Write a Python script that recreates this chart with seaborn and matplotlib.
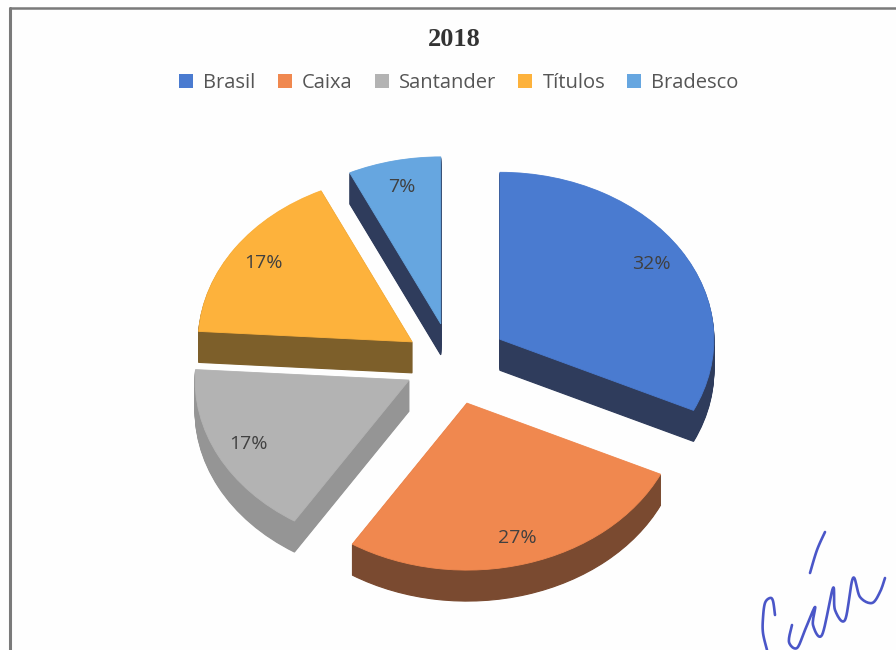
import matplotlib
matplotlib.use("Agg")
import matplotlib.pyplot as plt
from matplotlib.lines import Line2D
from matplotlib.patches import Patch
import numpy as np
import seaborn as sns

categories = ["Brasil", "Caixa", "Santander", "Títulos", "Bradesco"]
shares = [32, 27, 17, 17, 7]
explode = [0.265, 0.25, 0.225, 0.225, 0.24]
top_colors = ["#4a7bd0", "#f0884f", "#b3b3b3", "#fdb23c", "#66a6e0"]
side_colors = ["#2f3c5c", "#7a4a30", "#959595", "#7d5f2a", "#2f3c5c"]
title_text = "2018"

# pixel geometry of the tilted pie
W, H = 896, 650
CX, CY, RX, RY, DEPTH = 452, 363, 214, 167, 31

sns.set_theme(style="white")
fig = plt.figure(figsize=(W / 100, H / 100), dpi=100, facecolor="#fefefe")
ax = fig.add_axes([0, 0, 1, 1], facecolor="#fefefe")

# side walls: the same pie repeated below the top surface
for step in range(DEPTH, 0, -1):
    ax.pie(shares, explode=explode, colors=side_colors, startangle=90,
           counterclock=False, center=(0, -step / RY),
           wedgeprops=dict(linewidth=0.8))
    for w, c in zip(ax.patches[-5:], side_colors):
        w.set_edgecolor(c)

# top surface
wedges, _, autotexts = ax.pie(
    shares, explode=explode, colors=top_colors, startangle=90,
    counterclock=False, autopct="%.0f%%", pctdistance=0.84,
    textprops=dict(family="Open Sans", fontsize=14, color="#404040"),
)
for w, c in zip(wedges, top_colors):
    w.set_zorder(5)
    w.set_edgecolor(c)
    w.set_linewidth(0.6)
for t in autotexts:
    t.set_zorder(6)

ax.set_aspect("auto")
ax.set_xlim(-CX / RX, (W - CX) / RX)
ax.set_ylim(-(H - CY) / RY, CY / RY)


def px(x, y):
    return (x - CX) / RX, (CY - y) / RY


# title
tx, ty = px(454, 39)
ax.text(tx, ty, title_text, ha="center", va="center", fontsize=19,
        fontweight="bold", family="Liberation Serif", color="#333333")

# legend
handles = [Patch(facecolor=c, edgecolor="none") for c in top_colors]
ax.legend(handles, categories, ncol=5, loc="center",
          bbox_to_anchor=(459 / W, 1 - 83 / H), bbox_transform=fig.transFigure,
          frameon=False, handlelength=0.7, handleheight=0.7, handletextpad=0.5,
          columnspacing=1.1, prop=dict(family="Open Sans", size=14.5),
          labelcolor="#555555")

# chart frame, open at the right and bottom as in the scan
frame_color = "#7a7a7a"
fig.add_artist(Line2D([10 / W, 10 / W], [0, 1 - 8 / H], color=frame_color, lw=2.2))
fig.add_artist(Line2D([10 / W, 1], [1 - 8 / H, 1 - 8 / H], color=frame_color, lw=1.8))

# handwritten mark at the lower right
ink = "#4a56c8"
stroke_a = [(825, 532), (817, 550), (810, 573)]
stroke_b = [(775, 615), (773, 601), (770, 598), (765, 603), (763, 618), (763, 633), (767, 650)]
stroke_c = [(792, 625), (789, 642), (797, 648), (805, 630), (815, 607), (813, 625),
            (822, 635), (833, 588), (835, 610), (845, 620), (853, 578), (860, 597),
            (872, 603), (880, 592), (885, 578)]


def smooth(points, n=12):
    p = np.array([points[0]] + points + [points[-1]], dtype=float)
    out = []
    for i in range(1, len(p) - 2):
        for t in np.linspace(0, 1, n, endpoint=False):
            out.append(0.5 * (2 * p[i] + (p[i + 1] - p[i - 1]) * t
                              + (2 * p[i - 1] - 5 * p[i] + 4 * p[i + 1] - p[i + 2]) * t ** 2
                              + (3 * p[i] - p[i - 1] - 3 * p[i + 1] + p[i + 2]) * t ** 3))
    out.append(p[-2])
    return np.array(out)


for s in (stroke_a, stroke_b, stroke_c):
    curve = smooth(s)
    ax.plot((curve[:, 0] - CX) / RX, (CY - curve[:, 1]) / RY, color=ink, lw=1.9,
            solid_capstyle="round", zorder=7)

fig.savefig("out.png", dpi=100, facecolor=fig.get_facecolor())
